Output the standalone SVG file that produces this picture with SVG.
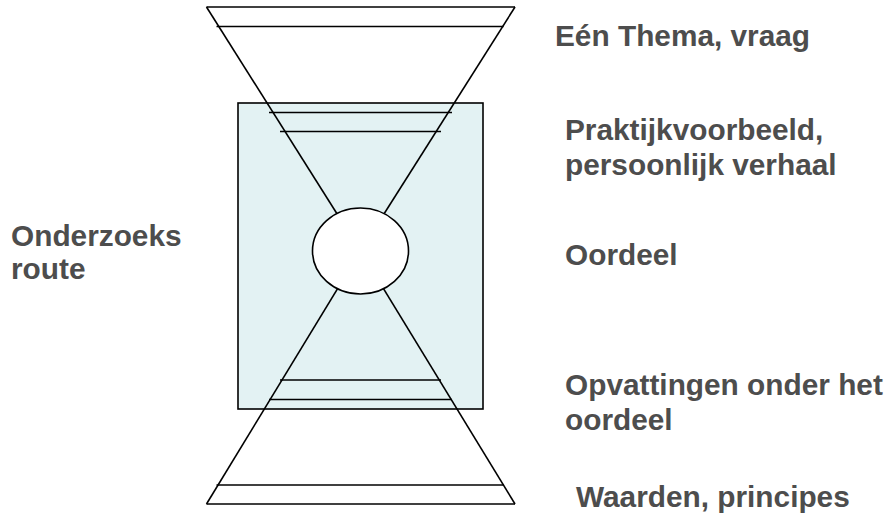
<svg xmlns="http://www.w3.org/2000/svg" width="887" height="520" viewBox="0 0 887 520">
<style>
.ln{stroke:#000;stroke-width:1.6;fill:none;stroke-linecap:butt}
.lbl{font-family:"Liberation Sans",Arial,sans-serif;font-weight:bold;font-size:29.8px;fill:#4d4d4d}
</style>
<rect width="887" height="520" fill="#fff"/>
<g id="zone">
<rect x="238" y="103" width="245" height="306" fill="#e3f2f3" stroke="#000" stroke-width="1.6"/>
</g>
<g id="funnel-top">
<line class="ln" x1="206.5" y1="7" x2="515" y2="7"/>
<line class="ln" x1="206.5" y1="7" x2="360.5" y2="251"/>
<line class="ln" x1="515" y1="7" x2="360.5" y2="251"/>
<line class="ln" x1="216.5" y1="26.5" x2="503.5" y2="26.5"/>
<line class="ln" x1="269" y1="112.5" x2="452" y2="112.5"/>
<line class="ln" x1="280" y1="131.5" x2="441" y2="131.5"/>
</g>
<g id="funnel-bottom">
<line class="ln" x1="206.5" y1="504" x2="515" y2="504"/>
<line class="ln" x1="206.5" y1="504" x2="360.5" y2="251"/>
<line class="ln" x1="515" y1="504" x2="360.5" y2="251"/>
<line class="ln" x1="216.5" y1="485" x2="504" y2="485"/>
<line class="ln" x1="280" y1="380" x2="441" y2="380"/>
<line class="ln" x1="269" y1="399.5" x2="452" y2="399.5"/>
</g>
<g id="oordeel-core">
<ellipse cx="360.5" cy="251" rx="48" ry="43" fill="#fff" stroke="#000" stroke-width="1.6"/>
</g>
<g id="label-thema"><text class="lbl" x="555" y="46">Eén Thema, vraag</text></g>
<g id="label-praktijk"><text class="lbl" x="565" y="140">Praktijkvoorbeeld,</text><text class="lbl" x="565" y="174.5">persoonlijk verhaal</text></g>
<g id="label-oordeel"><text class="lbl" x="565" y="265">Oordeel</text></g>
<g id="label-route"><text class="lbl" x="11" y="246">Onderzoeks</text><text class="lbl" x="11" y="279">route</text></g>
<g id="label-opvattingen"><text class="lbl" x="565" y="395">Opvattingen onder het</text><text class="lbl" x="565" y="430">oordeel</text></g>
<g id="label-waarden"><text class="lbl" x="576" y="507">Waarden, principes</text></g>
</svg>
